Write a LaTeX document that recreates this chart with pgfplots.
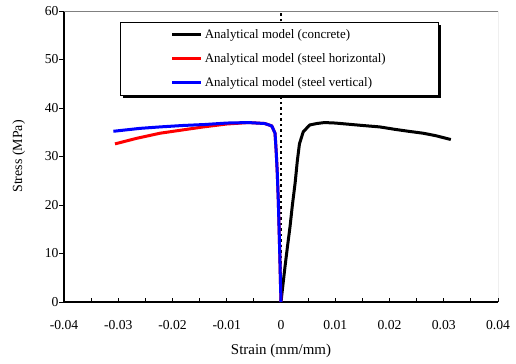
\documentclass[border=0pt]{standalone}
\usepackage{pgfplots}
\pgfplotsset{compat=1.18}
\usepackage{fontspec}
\setmainfont{Liberation Serif}
\begin{document}
\begin{tikzpicture}
\begin{axis}[
  scale only axis,
  width=434bp, height=291bp,
  xmin=-0.04, xmax=0.04, ymin=0, ymax=60,
  axis lines*=left,
  x axis line style={-, line width=1.2bp},
  y axis line style={-, line width=1.2bp},
  scaled x ticks=false,
  xtick={-0.04,-0.03,-0.02,-0.01,0,0.01,0.02,0.03,0.04},
  xticklabels={-0.04,-0.03,-0.02,-0.01,0,0.01,0.02,0.03,0.04},
  minor xtick={-0.035,-0.025,-0.015,-0.005,0.005,0.015,0.025,0.035},
  ytick={0,10,20,30,40,50,60},
  xtick style={black, line width=0.9bp},
  ytick style={black, line width=0.9bp},
  x tick style={/pgfplots/tick align=inside},
  y tick style={/pgfplots/tick align=outside},
  tick pos=left,
  major tick length=4.5bp, minor tick length=4.5bp,
  /pgf/number format/assume math mode=true,
  ticklabel style={font=\fontsize{13.7}{16}\selectfont},
  xticklabel style={yshift=-15bp},
  yticklabel style={xshift=-2bp},
  xlabel={Strain (mm/mm)},
  ylabel={Stress (MPa)},
  xlabel style={font=\fontsize{15}{17}\selectfont, yshift=-7bp},
  ylabel style={font=\fontsize{14}{16}\selectfont, yshift=13bp},
  legend style={at={(0.129,0.962)}, anchor=north west, draw=black, line width=0.6bp,
    fill=white, minimum width=318bp, minimum height=73bp, inner sep=0bp,
    font=\fontsize{13}{15}\selectfont, row sep=9.5bp,
    nodes={inner sep=2bp, minimum width=0bp, minimum height=0bp}},
  legend cell align=left,
  legend image code/.code={\draw[#1, line width=3bp] (0bp,0bp) -- (29bp,0bp);},
]
\addplot[black, line width=1.6bp, dash pattern=on 2.5bp off 3bp, forget plot] coordinates {(0,0) (0,60)};
\fill[black] ([shift={(3bp,-3bp)}]axis description cs:0.129,0.962) rectangle ([shift={(321bp,-76bp)}]axis description cs:0.129,0.962);
\addplot[black, line width=3bp, line join=round] coordinates {
(0,0) (0.0003,3) (0.00074,7.3) (0.0012,11.5) (0.00166,15.5) (0.0021,20) (0.0026,24.5)
(0.003,29) (0.0034,32.6) (0.0041,35.1) (0.0053,36.5) (0.0066,36.8) (0.008,37) (0.01,36.9)
(0.012,36.7) (0.015,36.4) (0.0182,36.1) (0.021,35.6) (0.0235,35.2) (0.0262,34.8)
(0.0285,34.3) (0.0313,33.5)};
\addlegendentry{Analytical model (concrete)}
\addplot[red, line width=3bp, line join=round] coordinates {
(0,0) (-0.0001,4) (-0.0002,8.7) (-0.00035,15) (-0.0005,21) (-0.0007,27) (-0.0009,31.3)
(-0.0011,34.8) (-0.0017,36.3) (-0.003,36.8) (-0.006,37) (-0.01,36.7) (-0.0143,36.1)
(-0.018,35.5) (-0.0223,34.8) (-0.0266,33.75) (-0.0306,32.6)};
\addlegendentry{Analytical model (steel horizontal)}
\addplot[blue, line width=3bp, line join=round] coordinates {
(0,0) (-0.0001,4) (-0.0002,8.7) (-0.00035,15) (-0.0005,21) (-0.0007,27) (-0.0009,31.3)
(-0.0011,34.8) (-0.0017,36.3) (-0.003,36.8) (-0.006,37) (-0.01,36.9) (-0.014,36.6)
(-0.018,36.4) (-0.0223,36.1) (-0.026,35.8) (-0.0309,35.2)};
\addlegendentry{Analytical model (steel vertical)}
\draw[gray, line width=0.8bp] (rel axis cs:0,1) -- (rel axis cs:1,1) -- (rel axis cs:1,0);
\end{axis}
\pgfresetboundingbox
\path ([shift={(-64bp,-61bp)}]current axis.south west) rectangle ([shift={(18bp,11bp)}]current axis.north east);
\end{tikzpicture}
\end{document}
